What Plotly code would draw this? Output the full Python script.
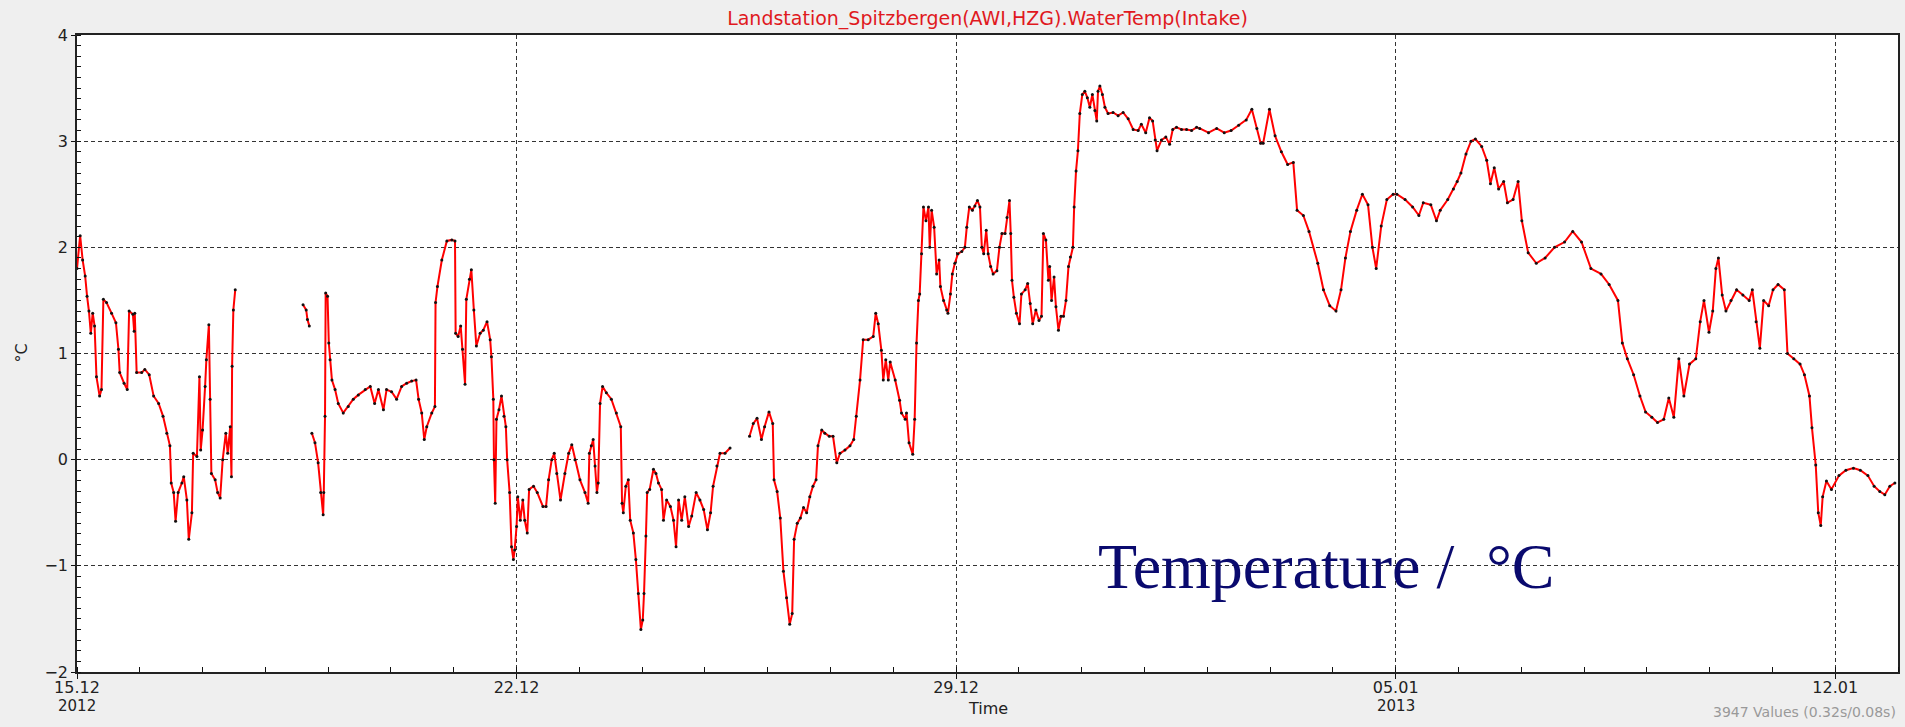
"""Water temperature at the Spitzbergen land station, Dec 2012 - Jan 2013."""
import pandas as pd
import plotly.graph_objects as go

# time as days since 15.12.2012 00:00, None in temp marks a gap in the record
day_offset = [
    0.00, 0.05, 0.09, 0.13, 0.16, 0.19, 0.22, 0.25, 0.28, 0.31, 0.36, 0.39,
    0.42, 0.47, 0.55, 0.62, 0.66, 0.68, 0.75, 0.80, 0.83, 0.89, 0.91, 0.92,
    0.95, 1.03, 1.08, 1.15, 1.22, 1.30, 1.37, 1.43, 1.48, 1.50, 1.54, 1.57,
    1.61, 1.67, 1.70, 1.75, 1.78, 1.83, 1.85, 1.91, 1.95, 1.97, 2.00, 2.04,
    2.06, 2.10, 2.12, 2.14, 2.20, 2.24, 2.28, 2.32, 2.37, 2.40, 2.44, 2.46,
    2.47, 2.49, 2.52, 3.00,
    3.60, 3.65, 3.67, 3.70, 3.72,
    3.74, 3.79, 3.84, 3.88, 3.92, 3.93, 3.95, 3.96, 3.99, 4.01, 4.03, 4.06,
    4.11, 4.16, 4.24, 4.32, 4.40, 4.48, 4.59, 4.67, 4.74, 4.80, 4.88, 4.93,
    5.01, 5.09, 5.17, 5.25, 5.33, 5.40, 5.44, 5.49, 5.53, 5.57, 5.65, 5.70,
    5.71, 5.74, 5.81, 5.89, 5.97, 6.02, 6.03, 6.07, 6.11, 6.14, 6.18, 6.20,
    6.25, 6.28, 6.32, 6.36, 6.42, 6.47, 6.53, 6.58, 6.60, 6.63, 6.64, 6.66,
    6.68, 6.72, 6.76, 6.80, 6.83, 6.85, 6.89, 6.92, 6.95, 6.97, 7.00, 7.02,
    7.06, 7.10, 7.13, 7.17, 7.20, 7.27, 7.33, 7.42, 7.47, 7.51, 7.56, 7.60,
    7.64, 7.70, 7.77, 7.83, 7.88, 7.93, 8.01, 8.09, 8.14, 8.16, 8.19, 8.22,
    8.25, 8.28, 8.30, 8.33, 8.37, 8.43, 8.51, 8.59, 8.66, 8.68, 8.70, 8.74,
    8.78, 8.81, 8.86, 8.90, 8.94, 8.98, 9.01, 9.03, 9.06, 9.08, 9.12, 9.18,
    9.22, 9.26, 9.31, 9.34, 9.39, 9.45, 9.50, 9.54, 9.58, 9.63, 9.68, 9.74,
    9.79, 9.86, 9.92, 9.98, 10.04, 10.09, 10.13, 10.19, 10.24, 10.32, 10.40,
    10.55,
    10.71, 10.77, 10.83, 10.90, 10.95, 11.02, 11.08, 11.10, 11.15, 11.20,
    11.25, 11.30, 11.35, 11.39, 11.42, 11.47, 11.52, 11.57, 11.62, 11.67,
    11.72, 11.77, 11.80, 11.86, 11.91, 11.98, 12.04, 12.10, 12.15, 12.23,
    12.31, 12.37, 12.41, 12.47, 12.52, 12.60, 12.68, 12.72, 12.76, 12.81,
    12.84, 12.88, 12.92, 12.95, 13.03, 13.10, 13.13, 13.19, 13.21, 13.25,
    13.31, 13.34, 13.37, 13.40, 13.42, 13.45, 13.48, 13.52, 13.56, 13.58,
    13.61, 13.65, 13.69, 13.73, 13.75, 13.80, 13.85, 13.87, 13.91, 13.94,
    13.98, 14.03, 14.09, 14.14, 14.17, 14.21, 14.26, 14.30, 14.34, 14.38,
    14.41, 14.44, 14.48, 14.51, 14.55, 14.59, 14.65, 14.69, 14.73, 14.78,
    14.81, 14.85, 14.87, 14.89, 14.92, 14.96, 15.01, 15.04, 15.10, 15.14,
    15.18, 15.22, 15.27, 15.32, 15.36, 15.39, 15.43, 15.47, 15.49, 15.52,
    15.56, 15.59, 15.63, 15.67, 15.71, 15.75, 15.79, 15.82, 15.86, 15.88,
    15.91, 15.94, 15.97, 16.01, 16.05, 16.09, 16.13, 16.17, 16.21, 16.24,
    16.26, 16.29, 16.33, 16.37, 16.42, 16.50, 16.58, 16.66, 16.74, 16.82,
    16.90, 16.95, 17.02, 17.08, 17.13, 17.17, 17.20, 17.27, 17.34, 17.40,
    17.45, 17.51, 17.59, 17.67, 17.75, 17.83, 17.88, 18.02, 18.15, 18.27,
    18.38, 18.50, 18.62, 18.71, 18.79, 18.85, 18.89, 18.99, 19.08, 19.18,
    19.28, 19.37, 19.43, 19.53, 19.62, 19.76, 19.85, 19.95, 20.05, 20.13,
    20.20, 20.28, 20.38, 20.47, 20.56, 20.63, 20.69, 20.77, 20.86, 20.96,
    21.02, 21.15, 21.27, 21.37, 21.44, 21.56, 21.65, 21.71, 21.83, 21.92,
    21.98, 22.04, 22.12, 22.20, 22.27, 22.37, 22.45, 22.51, 22.57, 22.64,
    22.72, 22.78, 22.87, 22.95, 23.01, 23.11, 23.24, 23.38, 23.53, 23.69,
    23.82, 23.96, 24.11, 24.27, 24.40, 24.54, 24.61, 24.69, 24.79, 24.89,
    24.98, 25.08, 25.17, 25.27, 25.35, 25.43, 25.51, 25.59, 25.68, 25.78,
    25.85, 25.91, 25.99, 26.05, 26.10, 26.14, 26.20, 26.26, 26.34, 26.43,
    26.53, 26.63, 26.68, 26.74, 26.80, 26.86, 26.94, 27.01, 27.09, 27.19,
    27.24, 27.34, 27.44, 27.51, 27.59, 27.63, 27.69, 27.73, 27.77, 27.80,
    27.86, 27.94, 28.06, 28.17, 28.29, 28.40, 28.52, 28.62, 28.71, 28.79,
    28.87, 28.95,
]

temp = [
    1.80, 2.11, 1.88, 1.73, 1.54, 1.40, 1.19, 1.38, 1.26, 0.78, 0.60, 0.66,
    1.51, 1.48, 1.38, 1.29, 1.04, 0.82, 0.72, 0.66, 1.40, 1.37, 1.21, 1.38,
    0.82, 0.82, 0.85, 0.80, 0.60, 0.53, 0.41, 0.25, 0.13, -0.22, -0.31, -0.58,
    -0.31, -0.22, -0.16, -0.38, -0.75, -0.50, 0.06, 0.03, 0.78, 0.09, 0.28, 0.69,
    0.94, 1.27, 0.57, -0.13, -0.19, -0.31, -0.36, 0.00, 0.25, 0.06, 0.31, -0.16,
    0.88, 1.41, 1.60, None,
    1.46, 1.41, 1.32, 1.26, None,
    0.25, 0.16, -0.03, -0.31, -0.52, -0.31, 0.41, 1.57, 1.54, 1.10, 0.94, 0.75,
    0.66, 0.53, 0.44, 0.50, 0.57, 0.61, 0.66, 0.69, 0.53, 0.66, 0.47, 0.66,
    0.64, 0.57, 0.69, 0.72, 0.74, 0.75, 0.57, 0.44, 0.19, 0.31, 0.44, 0.50,
    1.48, 1.63, 1.88, 2.06, 2.07, 2.06, 1.19, 1.16, 1.26, 1.04, 0.71, 1.51,
    1.70, 1.79, 1.41, 1.07, 1.19, 1.22, 1.30, 1.13, 0.97, 0.57, 0.00, -0.41,
    0.38, 0.47, 0.60, 0.41, 0.31, 0.00, -0.31, -0.82, -0.94, -0.85, -0.63, -0.35,
    -0.57, -0.38, -0.57, -0.69, -0.28, -0.25, -0.31, -0.44, -0.44, -0.19, 0.00, 0.06,
    -0.13, -0.38, -0.13, 0.06, 0.14, 0.00, -0.19, -0.31, -0.41, 0.06, 0.13, 0.19,
    -0.06, -0.31, -0.22, 0.53, 0.69, 0.63, 0.57, 0.44, 0.31, -0.41, -0.50, -0.25,
    -0.19, -0.57, -0.69, -0.94, -1.26, -1.60, -1.51, -1.26, -0.72, -0.31, -0.28, -0.09,
    -0.13, -0.22, -0.28, -0.57, -0.38, -0.44, -0.57, -0.82, -0.38, -0.57, -0.35, -0.63,
    -0.53, -0.31, -0.38, -0.47, -0.66, -0.50, -0.25, -0.06, 0.06, 0.06, 0.11,
    None,
    0.22, 0.34, 0.39, 0.19, 0.31, 0.45, 0.34, -0.19, -0.30, -0.55,
    -1.05, -1.30, -1.55, -1.45, -0.75, -0.60, -0.55, -0.45, -0.50, -0.35,
    -0.25, -0.19, 0.13, 0.28, 0.25, 0.22, 0.22, -0.03, 0.06, 0.09,
    0.13, 0.19, 0.41, 0.75, 1.13, 1.13, 1.16, 1.38, 1.28, 1.03,
    0.75, 0.94, 0.75, 0.92, 0.75, 0.56, 0.44, 0.38, 0.44, 0.16,
    0.05, 0.38, 1.10, 1.50, 1.56, 1.94, 2.38, 2.25, 2.38, 2.00,
    2.35, 2.19, 1.75, 1.88, 1.63, 1.50, 1.41, 1.38, 1.56, 1.75,
    1.85, 1.94, 1.96, 2.00, 2.19, 2.38, 2.35, 2.39, 2.44, 2.38,
    2.00, 1.94, 2.16, 1.94, 1.82, 1.75, 1.78, 2.00, 2.13, 2.13,
    2.28, 2.44, 2.13, 1.69, 1.53, 1.38, 1.28, 1.56, 1.60, 1.66,
    1.47, 1.28, 1.41, 1.31, 1.35, 2.13, 2.07, 1.69, 1.82, 1.50,
    1.72, 1.44, 1.22, 1.35, 1.35, 1.50, 1.82, 1.91, 2.00, 2.38,
    2.72, 2.91, 3.26, 3.44, 3.47, 3.41, 3.32, 3.44, 3.29, 3.19,
    3.47, 3.52, 3.44, 3.32, 3.26, 3.27, 3.24, 3.27, 3.21, 3.11,
    3.10, 3.16, 3.08, 3.22, 3.19, 3.01, 2.91, 3.01, 3.04, 2.97,
    3.11, 3.13, 3.11, 3.11, 3.10, 3.13, 3.12, 3.08, 3.12, 3.08,
    3.10, 3.15, 3.20, 3.30, 3.12, 2.98, 2.98, 3.30, 3.05, 2.90,
    2.78, 2.80, 2.35, 2.30, 2.15, 1.85, 1.60, 1.45, 1.40, 1.60,
    1.90, 2.15, 2.35, 2.50, 2.40, 2.00, 1.80, 2.20, 2.45, 2.50,
    2.50, 2.45, 2.38, 2.30, 2.42, 2.40, 2.25, 2.35, 2.45, 2.55,
    2.62, 2.70, 2.88, 3.00, 3.02, 2.95, 2.82, 2.60, 2.75, 2.55,
    2.62, 2.42, 2.45, 2.62, 2.25, 1.95, 1.85, 1.90, 2.00, 2.05,
    2.15, 2.05, 1.80, 1.75, 1.65, 1.50, 1.10, 0.95, 0.80, 0.60,
    0.45, 0.40, 0.35, 0.38, 0.58, 0.40, 0.95, 0.60, 0.90, 0.95,
    1.30, 1.50, 1.20, 1.40, 1.80, 1.90, 1.55, 1.40, 1.50, 1.60,
    1.55, 1.50, 1.60, 1.30, 1.05, 1.50, 1.45, 1.60, 1.65, 1.60,
    1.00, 0.95, 0.90, 0.80, 0.60, 0.30, -0.05, -0.50, -0.62, -0.35,
    -0.20, -0.28, -0.15, -0.10, -0.08, -0.10, -0.15, -0.25, -0.30, -0.33,
    -0.25, -0.22,
]

tick_dates = ["2012-12-15", "2012-12-22", "2012-12-29", "2013-01-05", "2013-01-12"]
tick_labels = ["15.12", "22.12", "29.12", "05.01", "12.01"]
year_dates = ["2012-12-15", "2013-01-05"]
year_labels = ["2012", "2013"]

start = pd.Timestamp("2012-12-15")
times = start + pd.to_timedelta(day_offset, unit="D")

fig = go.Figure()
fig.add_trace(go.Scatter(
    x=times,
    y=temp,
    mode="lines+markers",
    line=dict(color="#ff0000", width=2),
    marker=dict(color="#111111", size=3),
    connectgaps=False,
    showlegend=False,
))

font = "DejaVu Sans"
fig.update_xaxes(
    range=["2012-12-15", "2013-01-13"],
    tickvals=tick_dates,
    ticktext=tick_labels,
    ticks="outside", ticklen=5, tickcolor="#111",
    ticklabelstandoff=-5,
    tickfont=dict(family=font, size=16, color="#222"),
    showgrid=True, gridcolor="#333", griddash="4px,3px", gridwidth=1,
    showline=True, linecolor="#222", linewidth=1.5, mirror=True,
    zeroline=False, automargin=False,
    minor=dict(dtick=86400000, tick0="2012-12-15", ticks="inside",
               ticklen=5, tickcolor="#111", showgrid=False),
)
fig.update_yaxes(
    range=[-2, 4],
    dtick=1,
    ticks="outside", ticklen=4, tickcolor="#111",
    tickfont=dict(family=font, size=16, color="#222"),
    showgrid=True, gridcolor="#333", griddash="4px,3px", gridwidth=1,
    showline=True, linecolor="#222", linewidth=1.5, mirror=True,
    zeroline=False, automargin=False,
    minor=dict(dtick=0.1, ticks="inside", ticklen=4, tickcolor="#111",
               showgrid=False),
)

notes = [
    dict(text="°C", textangle=-90, x=-0.037, y=0.5,
         xref="paper", yref="paper", showarrow=False,
         font=dict(family=font, size=16, color="#222")),
    dict(text="Time", x=0.5, y=-0.058, xref="paper", yref="paper",
         yanchor="middle", showarrow=False,
         font=dict(family=font, size=16, color="#222")),
    dict(text="3947 Values (0.32s/0.08s)", x=1.0, y=-0.063,
         xref="paper", yref="paper", xanchor="right", yanchor="middle",
         showarrow=False,
         font=dict(family=font, size=14, color="#999")),
    dict(text="Temperature /\u00a0 °C", x=0.5596, y=0.166,
         xref="paper", yref="paper", xanchor="left", yanchor="middle",
         showarrow=False,
         font=dict(family="Liberation Serif", size=64, color="#0a0a6e")),
]
for d, lab in zip(year_dates, year_labels):
    notes.append(dict(text=lab, x=d, y=-0.053, xref="x", yref="paper",
                      yanchor="middle", showarrow=False,
                      font=dict(family=font, size=15, color="#222")))

fig.update_layout(
    template="none",
    width=1905, height=727,
    paper_bgcolor="#efefef",
    plot_bgcolor="#ffffff",
    margin=dict(l=77, r=7, t=35, b=55),
    title=dict(
        text="Landstation_Spitzbergen(AWI,HZG).WaterTemp(Intake)",
        font=dict(family=font, size=19, color="#e0191e"),
        x=0.5, xref="paper", y=0.975, yref="container",
        xanchor="center", yanchor="middle",
    ),
    annotations=notes,
)

# drop the default page margin so the figure fills the window
fig.write_html(
    "out.html",
    config={"displayModeBar": False},
    post_script="document.body.style.margin='0';"
                "document.body.style.background='#efefef';",
)
